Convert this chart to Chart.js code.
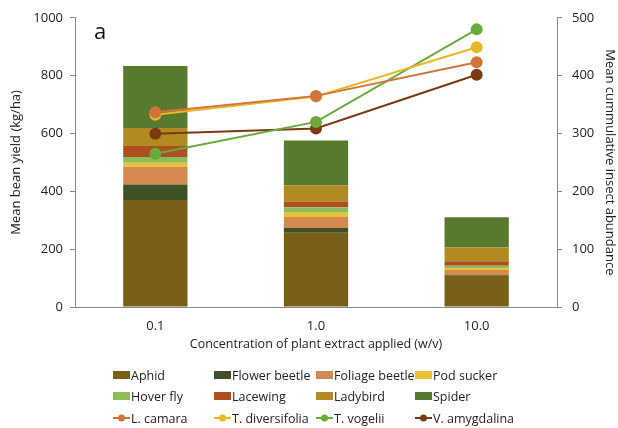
<!DOCTYPE html>
<html>
<head>
<meta charset="utf-8">
<script src="https://cdn.jsdelivr.net/npm/chart.js@4.4.1/dist/chart.umd.min.js"></script>
<style>
  html, body { margin: 0; padding: 0; background: #ffffff; }
  #wrap { width: 618px; height: 428px; }
</style>
</head>
<body>
<div id="wrap"><canvas id="chart"></canvas></div>
<script>
// concentrations on the x axis
const concentrations = ['0.1', '1.0', '10.0'];

// insect abundance (right axis), bottom to top of each stack
const insectNames = ['Aphid', 'Flower beetle', 'Foliage beetle', 'Pod sucker', 'Hover fly', 'Lacewing', 'Ladybird', 'Spider'];
const insectColors = ['#7a5f18', '#3e5225', '#d4894f', '#e9c132', '#8dbd58', '#ad4f1e', '#b08b22', '#587a2f'];
const aphid = [185, 128.5, 54];
const flowerBeetle = [27, 8, 1.5];
const foliageBeetle = [30.5, 19, 8.5];
const podSucker = [7, 7.5, 3.5];
const hoverFly = [10, 9.5, 4];
const lacewing = [19, 10, 7.5];
const ladybird = [31, 27.5, 24];
const spider = [107, 78, 52];
const insectValues = [aphid, flowerBeetle, foliageBeetle, podSucker, hoverFly, lacewing, ladybird, spider];

// bean yield per plant extract (left axis)
const extractNames = ['L. camara', 'T. diversifolia', 'T. vogelii', 'V. amygdalina'];
const extractColors = ['#d2743a', '#e8b82a', '#6aaa3a', '#7b3b12'];
const lCamara = [673, 730, 846];
const tDiversifolia = [665, 728, 898];
const tVogelii = [530, 640, 960];
const vAmygdalina = [599, 617, 803];
const extractValues = [lCamara, tDiversifolia, tVogelii, vAmygdalina];

const FONT = '"Open Sans"';
const TEXT = '#222222';
const AXIS = '#888888';

const barSets = insectNames.map((name, i) => ({
  type: 'bar',
  label: name,
  data: insectValues[i],
  backgroundColor: insectColors[i],
  yAxisID: 'y1',
  stack: 'insects',
  order: 2,
  categoryPercentage: 1,
  barPercentage: 0.4
}));

const lineSets = extractNames.map((name, i) => ({
  type: 'line',
  label: name,
  data: extractValues[i],
  borderColor: extractColors[i],
  backgroundColor: extractColors[i],
  borderWidth: 2,
  pointRadius: 5,
  pointHoverRadius: 5,
  yAxisID: 'y',
  order: 1
}));

// panel letter in the top left of the plot
const panelLabel = {
  id: 'panelLabel',
  afterDraw(chart) {
    const { ctx, chartArea } = chart;
    ctx.save();
    ctx.fillStyle = '#111';
    ctx.font = `22px ${FONT}`;
    ctx.textBaseline = 'alphabetic';
    ctx.fillText('a', chartArea.left + 19, chartArea.top + 21);
    ctx.restore();
  }
};

// legend laid out in a 4-column grid, like the original figure
const gridLegend = {
  id: 'gridLegend',
  afterDraw(chart) {
    const { ctx } = chart;
    const cols = [113, 214, 316, 415];
    const rows = [375, 396, 418];
    ctx.save();
    ctx.font = `12.5px ${FONT}`;
    ctx.textBaseline = 'middle';
    chart.data.datasets.forEach((ds, i) => {
      const x = cols[i % 4];
      const y = rows[Math.floor(i / 4)];
      if (ds.type === 'bar') {
        ctx.fillStyle = ds.backgroundColor;
        ctx.fillRect(x, y - 4, 17, 8);
      } else {
        ctx.strokeStyle = ds.borderColor;
        ctx.lineWidth = 2;
        ctx.beginPath();
        ctx.moveTo(x, y);
        ctx.lineTo(x + 17, y);
        ctx.stroke();
        ctx.fillStyle = ds.borderColor;
        ctx.beginPath();
        ctx.arc(x + 8.5, y, 3.5, 0, Math.PI * 2);
        ctx.fill();
      }
      ctx.fillStyle = TEXT;
      ctx.fillText(ds.label, x + 18, y + 1);
    });
    ctx.restore();
  }
};

new Chart(document.getElementById('chart'), {
  data: {
    labels: concentrations,
    datasets: [...barSets, ...lineSets]
  },
  options: {
    responsive: true,
    maintainAspectRatio: false,
    animation: false,
    layout: { padding: { top: 17, left: 4, right: 0, bottom: 75 } },
    plugins: {
      legend: { display: false },
      tooltip: { enabled: false }
    },
    scales: {
      x: {
        stacked: true,
        grid: { display: false },
        border: { color: AXIS },
        ticks: { color: TEXT, font: { family: FONT, size: 13 }, padding: 3 },
        title: {
          display: true,
          text: 'Concentration of plant extract applied (w/v)',
          color: TEXT,
          font: { family: FONT, size: 12.5 },
          padding: { top: 0, bottom: 1 }
        },
        afterFit(scale) { scale.height = 46; }
      },
      y: {
        position: 'left',
        min: 0,
        max: 1000,
        ticks: { stepSize: 200, color: TEXT, font: { family: FONT, size: 13 }, padding: 7, callback: v => String(v) },
        grid: { drawOnChartArea: false, tickLength: 5, color: AXIS },
        border: { color: AXIS },
        title: {
          display: true,
          text: 'Mean bean yield (kg/ha)',
          color: TEXT,
          font: { family: FONT, size: 13 },
          padding: { top: 4, bottom: 0 }
        },
        afterFit(scale) { scale.width = 71; }
      },
      y1: {
        position: 'right',
        stacked: true,
        min: 0,
        max: 500,
        ticks: { stepSize: 100, color: TEXT, font: { family: FONT, size: 13 }, padding: 10, callback: v => String(v) },
        grid: { drawOnChartArea: false, tickLength: 5, color: AXIS },
        border: { color: AXIS },
        title: {
          display: true,
          text: 'Mean cummulative insect abundance',
          color: TEXT,
          font: { family: FONT, size: 13 },
          padding: { top: 0, bottom: 0 }
        },
        afterFit(scale) { scale.width = 61; }
      }
    }
  },
  plugins: [panelLabel, gridLegend]
});
</script>
</body>
</html>
